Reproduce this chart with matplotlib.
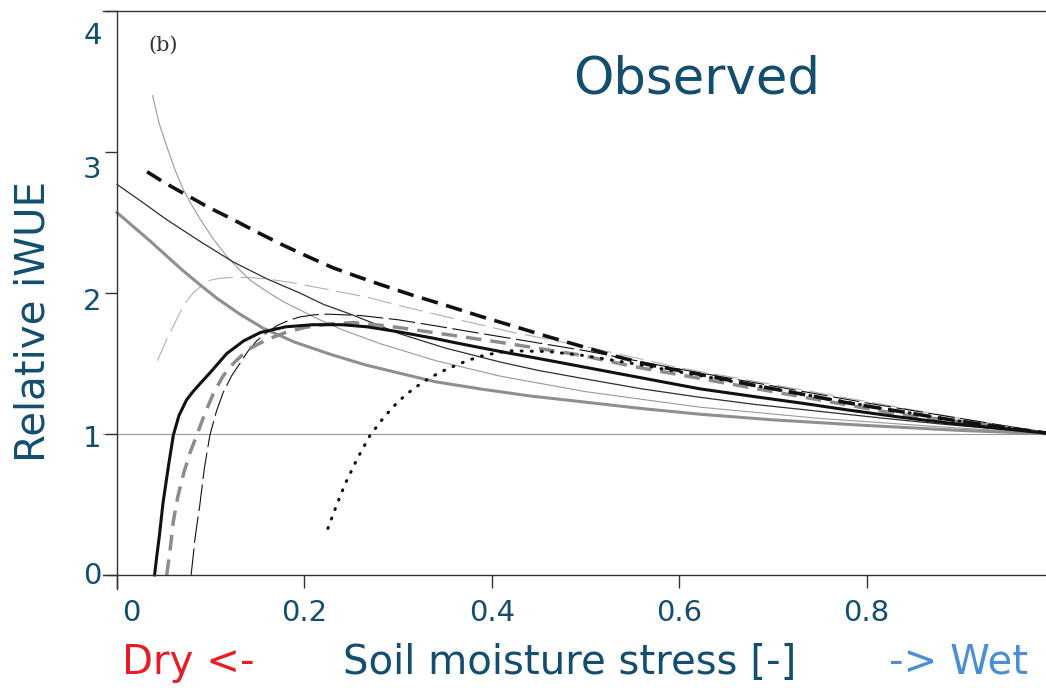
import matplotlib
matplotlib.use("Agg")
import matplotlib.pyplot as plt
from matplotlib.transforms import ScaledTranslation

TEAL = "#134e6f"

# Relative iWUE against soil moisture stress, one series per model variant
thick_dash_x = [0.032, 0.05, 0.07, 0.097, 0.124, 0.15, 0.177, 0.203, 0.23, 0.255, 0.281, 0.315, 0.352,
                0.39, 0.423, 0.46, 0.494, 0.53, 0.565, 0.6, 0.632, 0.68, 0.729, 0.78, 0.835, 0.89, 0.942, 1.0]
thick_dash_y = [2.86, 2.785, 2.71, 2.61, 2.52, 2.43, 2.34, 2.26, 2.18, 2.12, 2.06, 1.985, 1.91,
                1.83, 1.765, 1.69, 1.625, 1.555, 1.495, 1.45, 1.41, 1.345, 1.285, 1.22, 1.16, 1.10, 1.05, 1.0]

dotted_x = [0.225, 0.234, 0.243, 0.256, 0.27, 0.285, 0.30, 0.316, 0.334, 0.352, 0.37, 0.387, 0.405, 0.42,
            0.46, 0.50, 0.55, 0.60, 0.65, 0.70, 0.80, 0.90, 1.0]
dotted_y = [0.33, 0.49, 0.64, 0.82, 0.99, 1.12, 1.23, 1.32, 1.40, 1.46, 1.51, 1.55, 1.575, 1.59,
            1.585, 1.555, 1.50, 1.44, 1.38, 1.32, 1.20, 1.09, 1.0]

grey_dash_x = [0.053, 0.057, 0.06, 0.065, 0.071, 0.078, 0.085, 0.094, 0.103, 0.113, 0.124, 0.14, 0.16,
               0.18, 0.2, 0.225, 0.252, 0.29, 0.337, 0.409, 0.494, 0.55, 0.6, 0.7, 0.835, 0.92, 1.0]
grey_dash_y = [0.0, 0.2, 0.38, 0.56, 0.72, 0.87, 0.99, 1.15, 1.29, 1.41, 1.50, 1.60, 1.67,
               1.72, 1.755, 1.78, 1.79, 1.765, 1.72, 1.65, 1.56, 1.48, 1.42, 1.30, 1.14, 1.07, 1.0]

black_x = [0.040, 0.0425, 0.045, 0.049, 0.055, 0.060, 0.066, 0.074, 0.081, 0.089, 0.1, 0.117, 0.135,
           0.153, 0.18, 0.209, 0.24, 0.267, 0.3, 0.337, 0.37, 0.409, 0.45, 0.494, 0.55, 0.622, 0.68,
           0.729, 0.78, 0.835, 0.89, 0.942, 1.0]
black_y = [0.0, 0.14, 0.27, 0.51, 0.78, 0.99, 1.13, 1.24, 1.30, 1.36, 1.44, 1.57, 1.66,
           1.72, 1.76, 1.775, 1.775, 1.76, 1.725, 1.68, 1.635, 1.585, 1.535, 1.48, 1.41, 1.32, 1.265,
           1.22, 1.17, 1.12, 1.075, 1.04, 1.0]

grey_x = [0.0, 0.035, 0.07, 0.09, 0.107, 0.131, 0.156, 0.19, 0.23, 0.265, 0.302, 0.34, 0.387, 0.44,
          0.494, 0.56, 0.622, 0.7, 0.8, 0.9, 1.0]
grey_y = [2.57, 2.37, 2.16, 2.05, 1.96, 1.85, 1.75, 1.65, 1.56, 1.49, 1.43, 1.37, 1.32, 1.27,
          1.23, 1.18, 1.14, 1.10, 1.06, 1.025, 1.0]

thin_dark_x = [0.0, 0.03, 0.053, 0.09, 0.124, 0.16, 0.195, 0.22, 0.249, 0.302, 0.35, 0.409, 0.45, 0.5,
               0.56, 0.622, 0.68, 0.75, 0.82, 0.88, 0.94, 1.0]
thin_dark_y = [2.77, 2.63, 2.52, 2.36, 2.22, 2.10, 2.00, 1.92, 1.85, 1.71, 1.61, 1.51, 1.45, 1.39,
               1.32, 1.26, 1.21, 1.16, 1.11, 1.07, 1.035, 1.0]

thin_grey_x = [0.038, 0.045, 0.053, 0.062, 0.071, 0.08, 0.089, 0.103, 0.117, 0.13, 0.142, 0.16, 0.177,
               0.195, 0.213, 0.24, 0.281, 0.34, 0.409, 0.5, 0.622, 0.75, 0.88, 1.0]
thin_grey_y = [3.40, 3.20, 3.04, 2.87, 2.73, 2.62, 2.52, 2.38, 2.26, 2.17, 2.09, 2.01, 1.94,
               1.88, 1.82, 1.74, 1.64, 1.52, 1.41, 1.30, 1.19, 1.11, 1.05, 1.0]

light_dash_x = [0.043, 0.053, 0.064, 0.072, 0.081, 0.09, 0.099, 0.11, 0.124, 0.14, 0.16, 0.185, 0.213,
                0.24, 0.267, 0.302, 0.352, 0.423, 0.5, 0.6, 0.7, 0.8, 0.9, 1.0]
light_dash_y = [1.52, 1.67, 1.82, 1.92, 2.00, 2.05, 2.09, 2.105, 2.11, 2.11, 2.10, 2.075, 2.04,
                2.005, 1.97, 1.91, 1.83, 1.72, 1.62, 1.47, 1.35, 1.23, 1.11, 1.0]

thin_dash_x = [0.079, 0.081, 0.083, 0.0855, 0.088, 0.093, 0.099, 0.106, 0.113, 0.122, 0.131, 0.14, 0.149,
               0.16, 0.171, 0.183, 0.195, 0.21, 0.225, 0.26, 0.3, 0.337, 0.4, 0.5, 0.6, 0.7, 0.8, 0.9, 1.0]
thin_dash_y = [0.0, 0.12, 0.25, 0.37, 0.48, 0.75, 0.99, 1.16, 1.29, 1.41, 1.50, 1.59, 1.66,
               1.72, 1.77, 1.805, 1.83, 1.845, 1.85, 1.84, 1.81, 1.77, 1.70, 1.59, 1.46, 1.34, 1.22, 1.11, 1.0]

x_ticks = [0, 0.2, 0.4, 0.6, 0.8, 1.0]
x_labels = ["0", "0.2", "0.4", "0.6", "0.8", "1"]
y_ticks = [0, 1, 2, 3, 4]
y_labels = ["0", "1", "2", "3", "4"]

fig = plt.figure(figsize=(10.46, 6.88), dpi=100)
ax = fig.add_axes([0.0985, 0.1439, 0.9092, 0.840])

ax.axhline(1.0, color="#9a9a9a", lw=0.8, zorder=1)

ax.plot(light_dash_x, light_dash_y, color="#b0b0b0", lw=0.8, dashes=(22, 7))
ax.plot(thin_grey_x, thin_grey_y, color="#999999", lw=0.8)
ax.plot(thin_dark_x, thin_dark_y, color="#2e2e2e", lw=0.9)
ax.plot(grey_x, grey_y, color="#8f8f8f", lw=2.2)
ax.plot(thin_dash_x, thin_dash_y, color="#111111", lw=0.8, dashes=(24, 5))
ax.plot(grey_dash_x, grey_dash_y, color="#8c8c8c", lw=2.5, dashes=(4.5, 2.6))
ax.plot(black_x, black_y, color="#111111", lw=2.2)
ax.plot(thick_dash_x, thick_dash_y, color="#111111", lw=2.6, dashes=(4.6, 2.4))
ax.plot(dotted_x, dotted_y, color="#111111", lw=2.2, dashes=(0.3, 3.0),
        dash_capstyle="round")

ax.set_xlim(-0.015, 1.0)
ax.set_ylim(-0.1, 4.0)
ax.spines["bottom"].set_position(("data", 0))
ax.spines["left"].set_position(("data", 0))
ax.spines["right"].set_visible(False)
for side in ("bottom", "left", "top"):
    ax.spines[side].set_color("#333333")
    ax.spines[side].set_linewidth(1.0)

ax.set_xticks(x_ticks, x_labels)
ax.set_yticks(y_ticks, y_labels)
ax.tick_params(axis="both", direction="out", length=9, width=1.0, color="#333333",
               labelsize=21, labelcolor=TEAL)
ax.tick_params(axis="x", pad=8)
ax.tick_params(axis="y", pad=2)

# nudge a few tick labels the way they sit on the slide
y_shift_px = [-2, 2, 6, 15, 22]
for lab, dy in zip(ax.get_yticklabels(), y_shift_px):
    lab.set_transform(lab.get_transform() + ScaledTranslation(0, -dy / 100, fig.dpi_scale_trans))
first_x = ax.get_xticklabels()[0]
first_x.set_transform(first_x.get_transform() + ScaledTranslation(0.14, 0, fig.dpi_scale_trans))

ax.set_ylabel("Relative iWUE", fontsize=29, color=TEAL)
ax.yaxis.set_label_coords(-0.052, 0.462)


def px(x, y):
    return x / 1046, 1 - y / 688


fig.text(*px(697, 80), "Observed", fontsize=37, color=TEAL, ha="center", va="center")
fig.text(*px(163, 45), "(b)", fontsize=15, color="#333333", family="DejaVu Serif",
         ha="center", va="center")
fig.text(*px(122, 663), "Dry <-", fontsize=29, color="#e81c24", ha="left", va="center")
fig.text(*px(570, 663), "Soil moisture stress [-]", fontsize=29, color=TEAL,
         ha="center", va="center")
fig.text(*px(959, 663), "-> Wet", fontsize=29, color="#4a8fd3", ha="center", va="center")

fig.savefig("out.png", dpi=100)
